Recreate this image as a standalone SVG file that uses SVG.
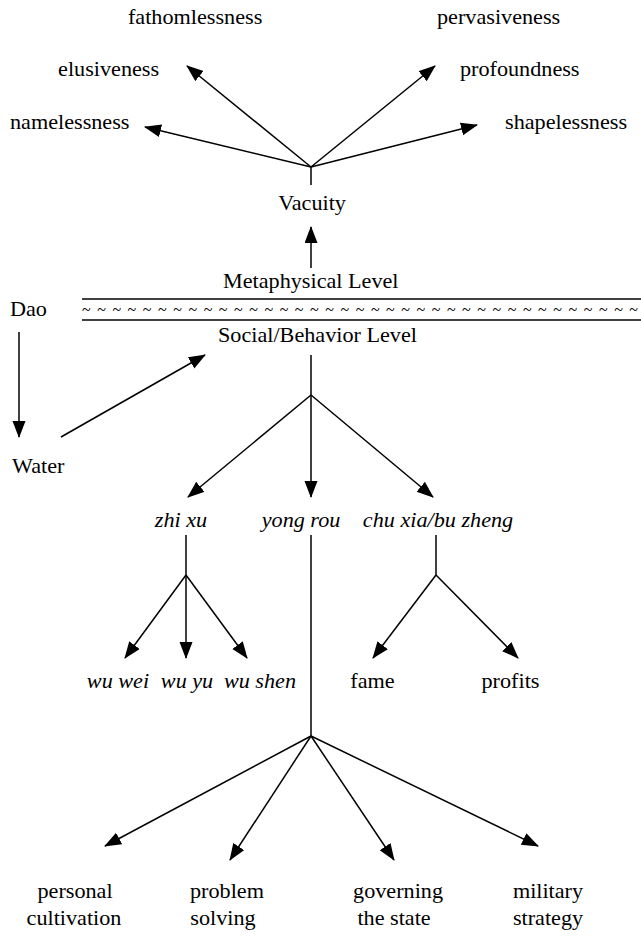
<svg xmlns="http://www.w3.org/2000/svg" width="641" height="938" viewBox="0 0 641 938">
<style>
text{font-family:"Liberation Serif","Times New Roman",serif;font-size:20px;fill:#000}
.i{font-style:italic}
.m{text-anchor:middle}
.c line{stroke:#000;stroke-width:1.5}
.a{marker-end:url(#ah)}
.r line{stroke:#000;stroke-width:1.5}
</style>
<defs>
<marker id="ah" markerUnits="userSpaceOnUse" markerWidth="18" markerHeight="14" refX="16" refY="6.5" orient="auto"><path d="M0,0 L17,6.5 L0,13 Z" fill="#000"/></marker>
</defs>
<g id="separator" class="r">
<line x1="82" y1="299" x2="641" y2="299"/>
<line x1="82" y1="320" x2="641" y2="320"/>
<text x="82" y="315" textLength="556" lengthAdjust="spacing" style="font-size:16px">~ ~ ~ ~ ~ ~ ~ ~ ~ ~ ~ ~ ~ ~ ~ ~ ~ ~ ~ ~ ~ ~ ~ ~ ~ ~ ~ ~ ~ ~ ~ ~ ~ ~ ~ ~ ~</text>
</g>
<g id="labels" transform="scale(1.11,1)">
<g id="fathomlessness"><text x="115.3" y="24">fathomlessness</text></g>
<g id="pervasiveness"><text x="393.7" y="24">pervasiveness</text></g>
<g id="elusiveness"><text x="52.3" y="76">elusiveness</text></g>
<g id="profoundness"><text x="414.4" y="76">profoundness</text></g>
<g id="namelessness"><text x="9" y="129">namelessness</text></g>
<g id="shapelessness"><text x="455" y="129">shapelessness</text></g>
<g id="vacuity"><text class="m" x="281.1" y="210">Vacuity</text></g>
<g id="metaphysical"><text x="200.9" y="288">Metaphysical Level</text></g>
<g id="social"><text x="196.4" y="342">Social/Behavior Level</text></g>
<g id="dao"><text x="9" y="316">Dao</text></g>
<g id="water"><text x="10.8" y="473">Water</text></g>
<g id="zhixu"><text class="m i" x="163.1" y="527">zhi xu</text></g>
<g id="yongrou"><text class="m i" x="271.2" y="527">yong rou</text></g>
<g id="chuxia"><text class="m i" x="394.6" y="527">chu xia/bu zheng</text></g>
<g id="wuwei"><text class="m i" x="106.3" y="688">wu wei</text></g>
<g id="wuyu"><text class="m i" x="168.5" y="688">wu yu</text></g>
<g id="wushen"><text class="m i" x="234.2" y="688">wu shen</text></g>
<g id="fame"><text class="m" x="335.6" y="688">fame</text></g>
<g id="profits"><text class="m" x="459.9" y="688">profits</text></g>
<g id="personal"><text class="m" x="67.6" y="898">personal</text><text class="m" x="66.7" y="925">cultivation</text></g>
<g id="problem"><text class="m" x="204.5" y="898">problem</text><text class="m" x="200.9" y="925">solving</text></g>
<g id="governing"><text class="m" x="358.6" y="898">governing</text><text class="m" x="355" y="925">the state</text></g>
<g id="military"><text class="m" x="493.7" y="898">military</text><text class="m" x="493.7" y="925">strategy</text></g>
</g>
<g id="connectors" class="c">
<line class="a" x1="311" y1="167" x2="145" y2="127"/>
<line class="a" x1="311" y1="167" x2="187" y2="66"/>
<line class="a" x1="311" y1="167" x2="435" y2="66"/>
<line class="a" x1="311" y1="167" x2="477" y2="125"/>
<line x1="311" y1="167" x2="311" y2="185"/>
<line class="a" x1="311" y1="268" x2="311" y2="227"/>
<line class="a" x1="19" y1="332" x2="19" y2="437"/>
<line class="a" x1="61" y1="437" x2="205" y2="355"/>
<line x1="311" y1="355" x2="311" y2="395"/>
<line class="a" x1="311" y1="395" x2="188" y2="497"/>
<line class="a" x1="311" y1="395" x2="311" y2="497"/>
<line class="a" x1="311" y1="395" x2="433" y2="497"/>
<line x1="186" y1="535" x2="186" y2="575"/>
<line class="a" x1="186" y1="575" x2="125" y2="658"/>
<line class="a" x1="186" y1="575" x2="186" y2="658"/>
<line class="a" x1="186" y1="575" x2="247" y2="658"/>
<line x1="311" y1="535" x2="311" y2="736"/>
<line x1="436" y1="535" x2="436" y2="575"/>
<line class="a" x1="436" y1="575" x2="373" y2="658"/>
<line class="a" x1="436" y1="575" x2="518" y2="658"/>
<line class="a" x1="311" y1="736" x2="105" y2="846"/>
<line class="a" x1="311" y1="736" x2="230" y2="860"/>
<line class="a" x1="311" y1="736" x2="394" y2="860"/>
<line class="a" x1="311" y1="736" x2="538" y2="846"/>
</g>
</svg>
